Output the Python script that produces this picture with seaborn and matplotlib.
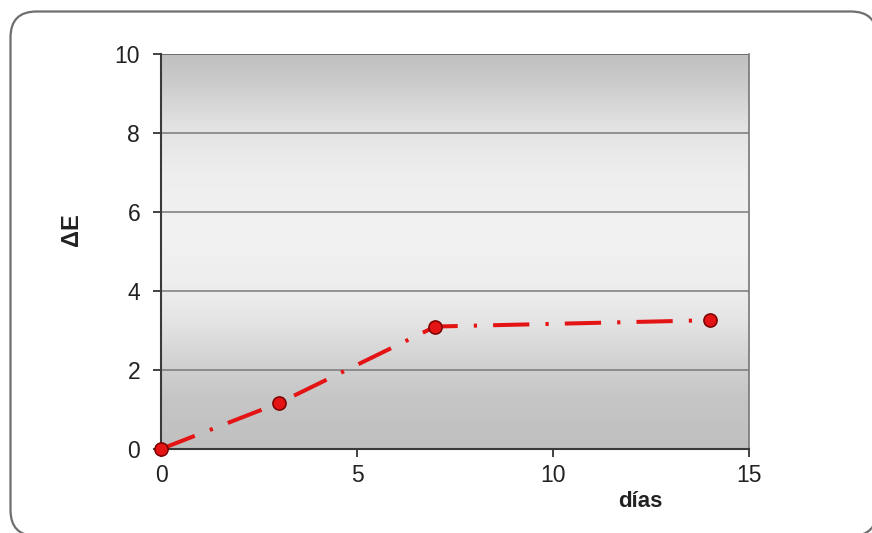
import numpy as np
import pandas as pd
import matplotlib
matplotlib.use("Agg")
import matplotlib.pyplot as plt
from matplotlib.patches import FancyBboxPatch
from matplotlib.colors import LinearSegmentedColormap
import seaborn as sns

# Colour difference over storage time
dias = [0, 3, 7, 14]
delta_e = [0.0, 1.16, 3.10, 3.26]
x_ticks = [0, 5, 10, 15]
y_ticks = [0, 2, 4, 6, 8, 10]

sns.set_theme(style="white")
plt.rcParams["font.family"] = ["Liberation Sans", "DejaVu Sans"]

W, H = 872, 533
fig = plt.figure(figsize=(W / 100, H / 100), dpi=100)
fig.patch.set_facecolor("white")

# overlay in pixel units (origin bottom-left) for the rounded chart frame
bg_ax = fig.add_axes([0, 0, 1, 1], zorder=-1)
bg_ax.set_xlim(0, W)
bg_ax.set_ylim(0, H)
bg_ax.axis("off")
left, right, top, bottom = 10.5, 877, H - 11.5, -3
frame = FancyBboxPatch((left, bottom), right - left, top - bottom,
                       boxstyle="round,pad=0,rounding_size=26",
                       facecolor="white", edgecolor="#6e6e6e",
                       linewidth=1.6, clip_on=False)
bg_ax.add_patch(frame)

ax = fig.add_axes([161 / W, 1 - 449 / H, 588 / W, 395 / H])

# vertical grey gradient behind the plot
grad = np.linspace(0, 1, 256).reshape(-1, 1)
bg = LinearSegmentedColormap.from_list(
    "bg",
    [(0.0, "#c0c0c0"), (0.12, "#c5c5c5"), (0.22, "#d2d2d2"),
     (0.32, "#e4e4e4"), (0.42, "#eeeeee"), (0.55, "#f2f2f2"),
     (0.70, "#eeeeee"), (0.82, "#e2e2e2"), (0.92, "#cdcdcd"),
     (1.0, "#c0c0c0")])
ax.imshow(grad, aspect="auto", cmap=bg, extent=[0, 15, 0, 10],
          origin="lower", zorder=0, interpolation="bicubic")

for yv in y_ticks[1:]:
    ax.axhline(yv, color="#7a7a7a" if yv < 10 else "#555555",
               linewidth=1.1, zorder=1)

df = pd.DataFrame({"dias": dias, "dE": delta_e})
sns.lineplot(data=df, x="dias", y="dE", ax=ax, color="#e41414",
             linewidth=2.9, linestyle=(0, (9, 4, 0.8, 4)),
             marker="o", markersize=9.5, markerfacecolor="#e41414",
             markeredgecolor="#7a0000", markeredgewidth=1.1,
             zorder=3, clip_on=False)

ax.set_xlim(0, 15)
ax.set_ylim(0, 10)
ax.set_xticks(x_ticks)
ax.set_yticks(y_ticks)
ax.tick_params(axis="both", labelsize=16.5, colors="#222222",
               length=6, width=1.2, direction="out",
               bottom=True, left=True)
ax.tick_params(axis="y", pad=9)
ax.tick_params(axis="x", pad=5)

for side in ["left", "bottom"]:
    ax.spines[side].set_color("#3a3a3a")
    ax.spines[side].set_linewidth(1.5)
ax.spines["right"].set_color("#777777")
ax.spines["right"].set_linewidth(1.2)
ax.spines["top"].set_visible(False)

ax.set_xlabel("días", fontsize=16, fontweight="bold", color="#222222")
ax.set_ylabel("ΔE", fontsize=17, fontweight="bold", color="#222222")
ax.xaxis.set_label_coords(0.816, -0.106)
ax.yaxis.set_label_coords(-0.133, 0.556)

fig.savefig("out.png", dpi=100, facecolor="white")
